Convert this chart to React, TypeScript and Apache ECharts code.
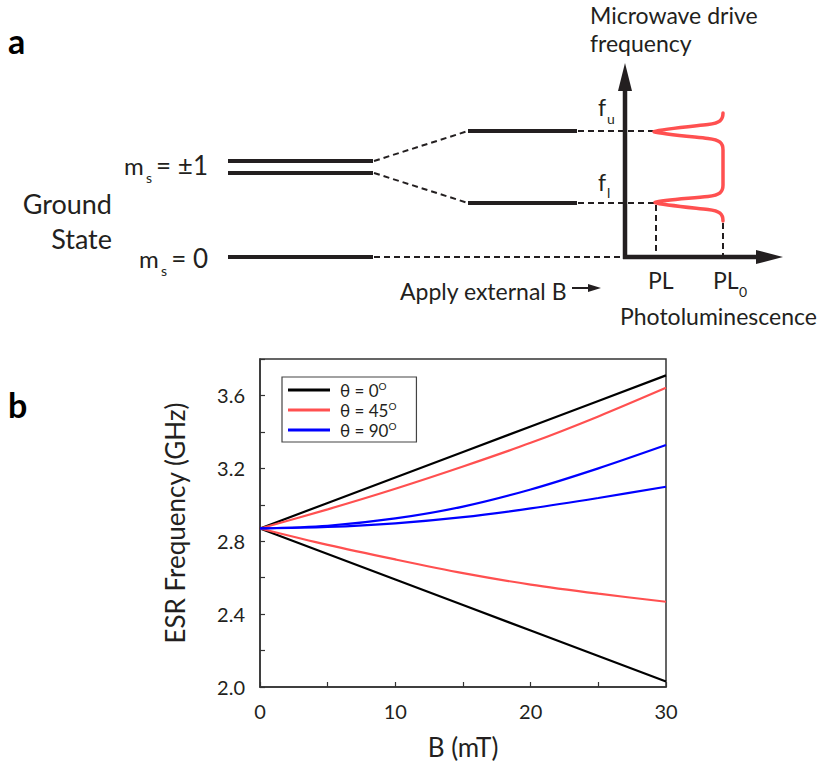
import React, { useEffect, useRef } from "react";
import * as echarts from "echarts";

// ---------- Data (panel b) ----------
const fieldB = [0, 5, 10, 15, 20, 25, 30]; // mT
const theta0Upper = [2.87, 3.01, 3.15, 3.29, 3.43, 3.57, 3.71];
const theta0Lower = [2.87, 2.73, 2.59, 2.45, 2.31, 2.17, 2.03];
const theta45Upper = [2.87, 2.975, 3.088, 3.21, 3.34, 3.485, 3.642];
const theta45Lower = [2.87, 2.78, 2.7, 2.625, 2.562, 2.512, 2.468];
const theta90Upper = [2.87, 2.885, 2.925, 2.99, 3.084, 3.2, 3.328];
const theta90Lower = [2.87, 2.878, 2.898, 2.932, 2.98, 3.037, 3.099];

const legendNames = ["θ = 0", "θ = 45", "θ = 90"];
const xTickLabels = [0, 10, 20, 30];
const yTickLabels = [2.0, 2.4, 2.8, 3.2, 3.6];

// ---------- Schematic path (panel a PL spectrum) ----------
const PL_PATH =
  "M723,113 C723,120 720,123 708,124.5 C690,126.5 662,129 654,131.7 " +
  "C662,134 690,136.5 708,138.5 C720,140 723,143 723,150 L723,185 " +
  "C723,192 720,195 708,196.5 C690,198.5 662,200 655,202.5 " +
  "C662,205 690,207.5 708,209.5 C720,211 723,214 723,221";

let registered = false;
function registerShapes() {
  if (registered) return;
  echarts.graphic.registerShape("plcurve", echarts.graphic.extendPath(PL_PATH, {}) as any);
  registered = true;
}

const FONT = "Lato";
const INK = "#231f20";
const RED = "#ff5050";

function pairs(ys: number[]) {
  return fieldB.map((b, i) => [b, ys[i]]);
}

function txt(text: string, x: number, y: number, size: number, align = "left", extra: any = {}) {
  return {
    type: "text",
    x,
    y,
    silent: true,
    style: {
      text,
      fill: INK,
      fontSize: size,
      fontFamily: FONT,
      textAlign: align,
      textVerticalAlign: "middle",
      ...extra,
    },
  };
}

function seg(x1: number, y1: number, x2: number, y2: number, width: number, dashed = false) {
  return {
    type: "line",
    silent: true,
    shape: { x1, y1, x2, y2 },
    style: {
      stroke: INK,
      lineWidth: width,
      lineDash: dashed ? [6, 4] : null,
    },
  };
}

export default function App() {
  const ref = useRef<HTMLDivElement>(null);

  useEffect(() => {
    if (!ref.current) return;
    registerShapes();
    const chart = echarts.init(ref.current, null, { renderer: "svg" });

    const mk = (name: string, ys: number[], color: string, smooth: number | boolean) => ({
      name,
      type: "line",
      data: pairs(ys),
      symbol: "none",
      showSymbol: false,
      smooth,
      lineStyle: { color, width: 2.2 },
      itemStyle: { color },
      z: 3,
    });

    const graphic: any[] = [
      // panel labels
      txt("a", 8, 40, 34, "left", { fontWeight: "bold", fill: "#000" }),
      txt("b", 8, 404, 34, "left", { fontWeight: "bold", fill: "#000" }),
      // level labels
      txt("m", 124, 165, 24),
      txt("s", 146, 177, 14),
      txt("= ±1", 208, 165, 26, "right"),
      txt("m", 139, 258, 24),
      txt("s", 161, 270, 14),
      txt("= 0", 208, 258, 26, "right"),
      txt("Ground", 112, 203, 27, "right"),
      txt("State", 112, 238, 27, "right"),
      // energy levels
      seg(228, 161, 373, 161, 4),
      seg(228, 173, 373, 173, 4),
      seg(228, 257, 373, 257, 4),
      seg(468, 131, 577, 131, 4),
      seg(468, 203, 577, 203, 4),
      // dashed connectors
      seg(374, 161, 468, 131, 2, true),
      seg(374, 173, 468, 203, 2, true),
      seg(374, 257, 625, 257, 2, true),
      seg(578, 131, 655, 131, 2, true),
      seg(578, 203, 655, 203, 2, true),
      seg(656, 205, 656, 255, 2, true),
      seg(723, 223, 723, 255, 2, true),
      // axes of the inset
      seg(625, 259, 625, 80, 4.5),
      seg(623, 257, 765, 257, 4.5),
      {
        type: "polygon",
        silent: true,
        shape: { points: [[625, 63], [618, 91], [632, 91]] },
        style: { fill: INK },
      },
      {
        type: "polygon",
        silent: true,
        shape: { points: [[783, 257], [756, 250], [756, 264]] },
        style: { fill: INK },
      },
      // PL spectrum
      {
        type: "plcurve",
        x: 0,
        y: 0,
        silent: true,
        style: { stroke: RED, lineWidth: 3.5, fill: null, lineCap: "round", lineJoin: "round" },
      },
      // inset texts
      txt("Microwave drive", 590, 15, 23),
      txt("frequency", 590, 43, 23),
      txt("f", 598, 107, 23),
      txt("u", 607, 118, 14),
      txt("f", 598, 182, 23),
      txt("l", 607, 192, 14),
      txt("PL", 648, 280, 23),
      txt("PL", 713, 280, 23),
      txt("0", 739, 291, 14),
      txt("Photoluminescence", 620, 316, 23),
      txt("Apply external B", 400, 291, 23),
      seg(572, 288, 590, 288, 2),
      {
        type: "polygon",
        silent: true,
        shape: { points: [[601, 288], [588, 284], [588, 292]] },
        style: { fill: INK },
      },
    ];

    chart.setOption({
      animation: false,
      backgroundColor: "#fff",
      textStyle: { fontFamily: FONT, color: INK },
      grid: {
        left: 260,
        top: 359,
        width: 406,
        height: 328,
        show: true,
        borderColor: "#333",
        borderWidth: 1.5,
        backgroundColor: "transparent",
      },
      legend: {
        data: legendNames,
        orient: "vertical",
        left: 282,
        top: 377,
        padding: [4, 20, 3, 6],
        itemGap: 2,
        itemWidth: 42,
        itemHeight: 3,
        icon: "rect",
        borderColor: "#444",
        borderWidth: 1.2,
        borderRadius: 0,
        backgroundColor: "#fff",
        formatter: (name: string) => `${name}{sup|O}`,
        textStyle: {
          fontFamily: FONT,
          fontSize: 17,
          color: INK,
          lineHeight: 18,
          padding: [0, 0, 0, 5],
          rich: {
            sup: { fontSize: 10, lineHeight: 10, verticalAlign: "top", fontFamily: FONT, color: INK },
          },
        },
      },
      xAxis: {
        type: "value",
        min: 0,
        max: 30,
        interval: 5,
        name: "B (mT)",
        nameLocation: "middle",
        nameGap: 47,
        nameTextStyle: { fontSize: 26, fontFamily: FONT, color: INK },
        axisLine: { lineStyle: { color: "#333", width: 1.5 } },
        axisTick: { inside: true, length: 5, lineStyle: { color: "#333", width: 1.2 } },
        axisLabel: {
          margin: 14,
          fontSize: 20,
          fontFamily: FONT,
          color: INK,
          formatter: (v: number) => (xTickLabels.includes(v) ? String(v) : ""),
        },
        splitLine: { show: false },
      },
      yAxis: {
        type: "value",
        min: 2.0,
        max: 3.8,
        interval: 0.2,
        name: "ESR Frequency (GHz)",
        nameLocation: "middle",
        nameGap: 72,
        nameRotate: 90,
        nameTextStyle: { fontSize: 26, fontFamily: FONT, color: INK },
        axisLine: { lineStyle: { color: "#333", width: 1.5 } },
        axisTick: { inside: true, length: 5, lineStyle: { color: "#333", width: 1.2 } },
        axisLabel: {
          margin: 15,
          fontSize: 20,
          fontFamily: FONT,
          color: INK,
          formatter: (v: number) =>
            yTickLabels.some((t) => Math.abs(t - v) < 1e-6) ? v.toFixed(1) : "",
        },
        splitLine: { show: false },
      },
      series: [
        mk(legendNames[0], theta0Upper, "#000000", false),
        mk(legendNames[0], theta0Lower, "#000000", false),
        mk(legendNames[1], theta45Upper, RED, 0.3),
        mk(legendNames[1], theta45Lower, RED, 0.3),
        mk(legendNames[2], theta90Upper, "#0000ff", 0.3),
        mk(legendNames[2], theta90Lower, "#0000ff", 0.3),
      ],
      graphic,
    });

    return () => {
      chart.dispose();
    };
  }, []);

  return (
    <div
      ref={ref}
      style={{ position: "fixed", left: 0, top: 0, width: 818, height: 765, background: "#fff" }}
    />
  );
}
